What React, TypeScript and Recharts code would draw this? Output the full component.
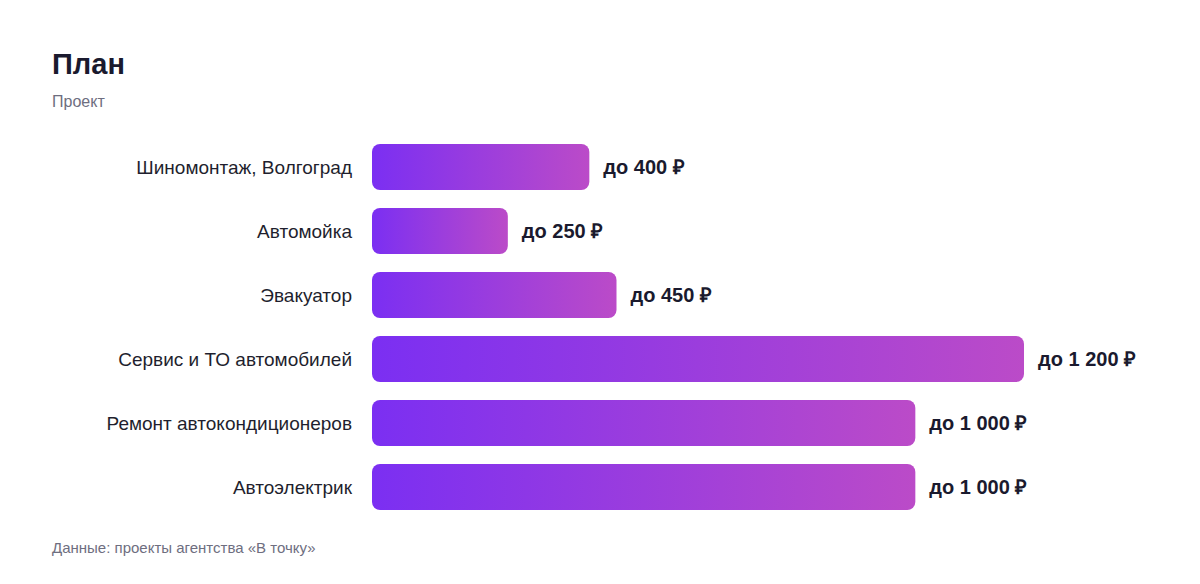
import React from "react";
import { BarChart, Bar, XAxis, YAxis, LabelList } from "recharts";

const categories = [
  "Шиномонтаж, Волгоград",
  "Автомойка",
  "Эвакуатор",
  "Сервис и ТО автомобилей",
  "Ремонт автокондиционеров",
  "Автоэлектрик",
];
const values = [400, 250, 450, 1200, 1000, 1000];

const data = categories.map((name, i) => ({ name, value: values[i] }));

const FONT = "'Liberation Sans', Arial, Helvetica, sans-serif";

const fmt = (v: any) =>
  "до " + String(v).replace(/\B(?=(\d{3})+(?!\d))/g, " ") + " ₽";

export default function App() {
  return (
    <div
      style={{
        position: "absolute",
        left: 0,
        top: 0,
        width: 1200,
        height: 584,
        background: "#fff",
        fontFamily: FONT,
      }}
    >
      <div
        style={{
          position: "absolute",
          left: 52,
          top: 46,
          fontSize: 29,
          fontWeight: 700,
          color: "#1a1a2e",
          lineHeight: "36px",
        }}
      >
        План
      </div>
      <div
        style={{
          position: "absolute",
          left: 52,
          top: 93,
          fontSize: 16,
          color: "#6e6e80",
          lineHeight: "18px",
        }}
      >
        Проект
      </div>
      <div style={{ position: "absolute", left: 0, top: 0 }}>
        <BarChart
          width={1200}
          height={584}
          data={data}
          layout="vertical"
          margin={{ top: 135, right: 176, bottom: 65, left: 0 }}
          barSize={46}
        >
          <defs>
            <linearGradient id="barGrad" x1="0" y1="0" x2="1" y2="0">
              <stop offset="0%" stopColor="#7b2ff2" />
              <stop offset="100%" stopColor="#bb4bc8" />
            </linearGradient>
          </defs>
          <XAxis type="number" domain={[0, 1200]} hide />
          <YAxis
            type="category"
            dataKey="name"
            width={372}
            axisLine={false}
            tickLine={false}
            tickSize={0}
            tickMargin={20}
            tick={{ fontSize: 19, fill: "#1f1f2e", fontFamily: FONT }}
          />
          <Bar
            dataKey="value"
            fill="url(#barGrad)"
            radius={8}
            isAnimationActive={false}
          >
            <LabelList
              dataKey="value"
              position="right"
              offset={14}
              formatter={fmt}
              style={{
                fontSize: 20,
                fontWeight: 700,
                fill: "#1a1a2e",
                fontFamily: FONT,
              }}
            />
          </Bar>
        </BarChart>
      </div>
      <div
        style={{
          position: "absolute",
          left: 52,
          top: 540,
          fontSize: 15,
          color: "#6e6e80",
          lineHeight: "16px",
        }}
      >
        Данные: проекты агентства «В точку»
      </div>
    </div>
  );
}
